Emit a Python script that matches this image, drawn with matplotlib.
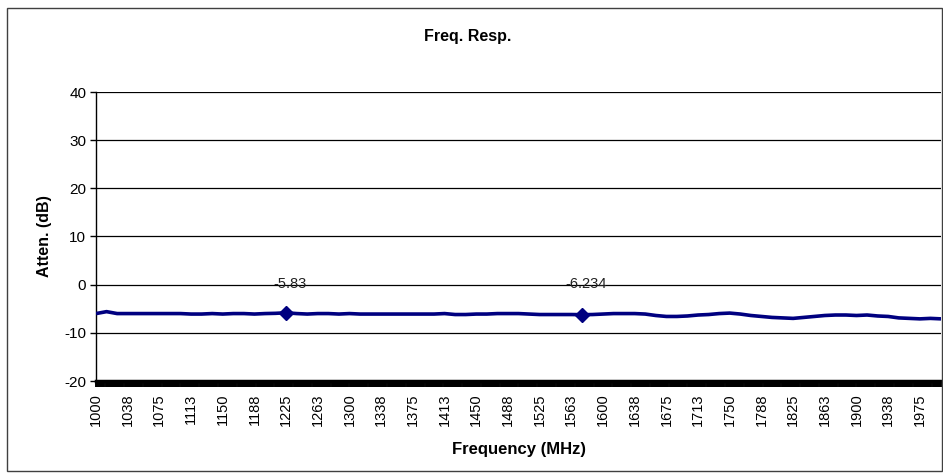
import numpy as np
import matplotlib
matplotlib.use('Agg')
import matplotlib.pyplot as plt
from matplotlib.patches import Rectangle
from matplotlib.ticker import MultipleLocator

plt.rcParams['font.family'] = ['Liberation Sans', 'DejaVu Sans']
plt.rcParams['axes.unicode_minus'] = False

# frequency steps (MHz) and attenuation (dB)
freq = np.arange(1000, 2000.1, 12.5)
atten = [-6.0, -5.6, -6.0, -6.0, -6.0, -6.0, -6.0, -6.0, -6.0, -6.1,
         -6.1, -6.0, -6.1, -6.0, -6.0, -6.1, -6.0, -5.95, -5.83, -6.0,
         -6.1, -6.0, -6.0, -6.1, -6.0, -6.1, -6.1, -6.1, -6.1, -6.1,
         -6.1, -6.1, -6.1, -6.0, -6.2, -6.2, -6.1, -6.1, -6.0, -6.0,
         -6.0, -6.1, -6.2, -6.2, -6.2, -6.2, -6.234, -6.2, -6.1, -6.0,
         -6.0, -6.0, -6.1, -6.4, -6.6, -6.6, -6.5, -6.3, -6.2, -6.0,
         -5.9, -6.1, -6.4, -6.6, -6.8, -6.9, -7.0, -6.8, -6.6, -6.4,
         -6.3, -6.3, -6.4, -6.3, -6.5, -6.6, -6.9, -7.0, -7.1, -7.0,
         -7.1]

marker_freq = [1225, 1575]
marker_val = [-5.83, -6.234]
marker_text = ['-5.83', '-6.234']

xtick_pos = np.arange(1000, 1976, 37.5)
xtick_labels = ['1000', '1038', '1075', '1113', '1150', '1188', '1225', '1263',
                '1300', '1338', '1375', '1413', '1450', '1488', '1525', '1563',
                '1600', '1638', '1675', '1713', '1750', '1788', '1825', '1863',
                '1900', '1938', '1975']

W, H = 943, 473
fig = plt.figure(figsize=(W / 100, H / 100), dpi=100)
ax = fig.add_axes([96 / W, 1 - 381 / H, (941 - 96) / W, (381 - 92) / H])

# outer chart border
fig.patches.append(Rectangle((7 / W, 2 / H), (942 - 7) / W, (465 - 2) / H,
                             transform=fig.transFigure, fill=False,
                             edgecolor='#404040', linewidth=1.0))

ax.plot(freq, atten, color='#000080', linewidth=2.6, solid_capstyle='butt', zorder=3)
ax.plot(marker_freq, marker_val, linestyle='none', marker='D', markersize=7,
        color='#000080', zorder=4)
for f, v, t in zip(marker_freq, marker_val, marker_text):
    ax.text(f + 5, 0.2, t, ha='center', va='center', fontsize=10.5, color='#222222', zorder=5)

ax.set_xlim(1000, 2000)
ax.set_ylim(-20, 40)
ax.set_yticks(np.arange(-20, 41, 10))
ax.yaxis.grid(True, color='black', linewidth=0.9)
ax.set_axisbelow(True)

ax.set_xticks(xtick_pos)
ax.set_xticklabels(xtick_labels, rotation=90, fontsize=10.5)
ax.xaxis.set_minor_locator(MultipleLocator(1.25))
ax.tick_params(axis='x', which='minor', length=4, width=1.4, color='black', direction='out')
ax.tick_params(axis='x', which='major', length=4, width=1.4, pad=5)
ax.tick_params(axis='y', length=4, width=1, labelsize=11, pad=3)

for s in ['top', 'right']:
    ax.spines[s].set_visible(False)
ax.spines['bottom'].set_linewidth(2.5)
ax.spines['left'].set_linewidth(1.0)

ax.set_ylabel('Atten. (dB)', fontsize=11.5, fontweight='bold', labelpad=9)
ax.set_xlabel('Frequency (MHz)', fontsize=12, fontweight='bold', labelpad=11)
fig.text(468 / W, 1 - 36 / H, 'Freq. Resp.', ha='center', va='center',
         fontsize=11.5, fontweight='bold')

fig.savefig('out.png', dpi=100)
